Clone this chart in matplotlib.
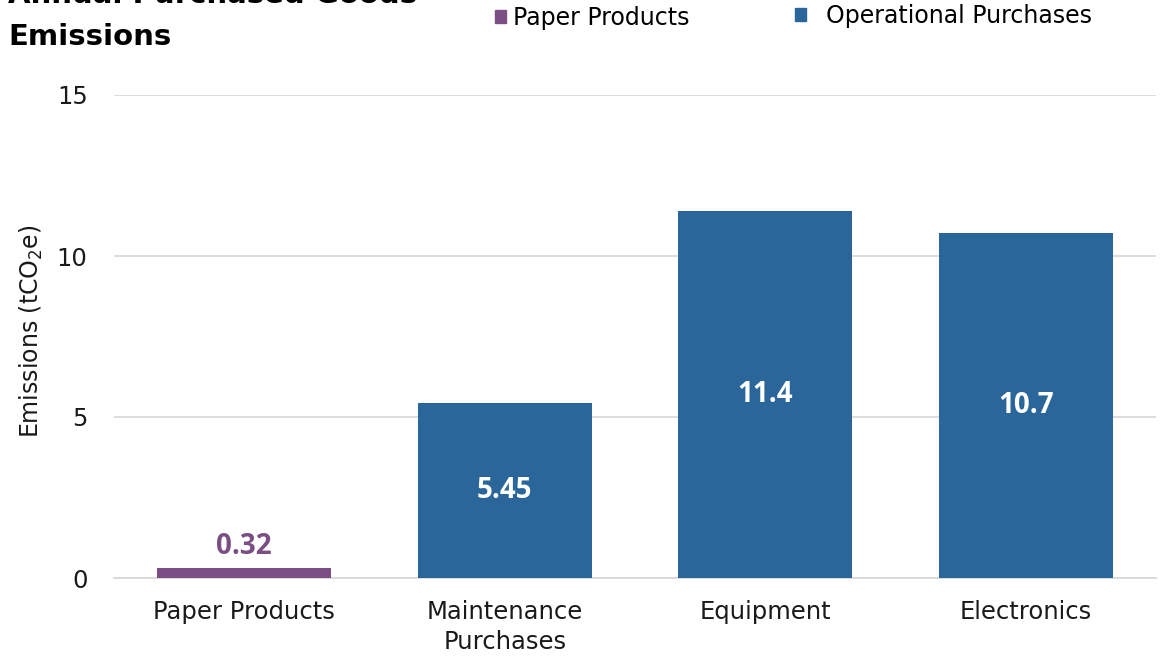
import matplotlib.pyplot as plt
from matplotlib.patches import Patch

# data
categories = ["Paper Products", "Maintenance\nPurchases", "Equipment", "Electronics"]
values = [0.32, 5.45, 11.4, 10.7]
labels = ["0.32", "5.45", "11.4", "10.7"]
groups = ["Paper Products", "Operational Purchases", "Operational Purchases", "Operational Purchases"]

purple = "#7b4f84"
blue = "#2a6699"
colors = {"Paper Products": purple, "Operational Purchases": blue}

plt.rcParams['font.family'] = ['DejaVu Sans']

fig = plt.figure(figsize=(11.75, 6.57), dpi=100)
ax = fig.add_axes([114/1175, 79/657, (1156-114)/1175, 483/657])

bars = ax.bar(range(len(values)), values, width=0.667,
              color=[colors[g] for g in groups], zorder=3)

# labels: purple bar too thin, label sits above it
for b, v, t in zip(bars, values, labels):
    x = b.get_x() + b.get_width()/2
    if v < 2:
        ax.text(x, v + 0.2, t, ha='center', va='bottom', color=purple,
                fontsize=20, fontweight='bold', family='Open Sans')
    else:
        ax.text(x, v/2, t, ha='center', va='center', color='white',
                fontsize=20, fontweight='bold', family='Open Sans')

ax.set_xlim(-0.5, 3.5)
ax.set_ylim(0, 15)
ax.set_yticks([0, 5, 10, 15])
ax.set_xticks(range(len(categories)))
ax.set_xticklabels(categories, fontsize=17.5, color='#1a1a1a', linespacing=1.3)
ax.tick_params(axis='y', length=0, pad=19, labelsize=17.5, labelcolor='#1a1a1a')
ax.tick_params(axis='x', length=0, pad=16)
ax.grid(axis='y', color='#d9d9d9', linewidth=1.3, zorder=0)
for s in ['top', 'right', 'left']:
    ax.spines[s].set_visible(False)
ax.spines['bottom'].set_color('#d9d9d9')
ax.spines['bottom'].set_linewidth(1.3)

ax.set_ylabel("Emissions (tCO$_2$e)", fontsize=17, color='#1a1a1a')
ax.yaxis.set_label_coords(-0.066, 0.51)

# title, first line runs off the top like in the original
fig.text(8/1175, 1 - 3/657, "Annual Purchased Goods", fontsize=21,
         fontweight='bold', ha='left', va='baseline')
fig.text(8/1175, 1 - 45/657, "Emissions", fontsize=21,
         fontweight='bold', ha='left', va='baseline')

# two legend entries, spaced like the original
leg1 = fig.legend(handles=[Patch(color=purple, label="Paper Products")],
                  loc='center left', bbox_to_anchor=(486/1175, 1 - 18/657),
                  frameon=False, fontsize=17, handlelength=0.45, handleheight=0.45,
                  handletextpad=0.3, borderaxespad=0)
leg2 = fig.legend(handles=[Patch(color=blue, label="Operational Purchases")],
                  loc='center left', bbox_to_anchor=(786/1175, 1 - 16/657),
                  frameon=False, fontsize=17, handlelength=0.45, handleheight=0.45,
                  handletextpad=0.85, borderaxespad=0)

fig.savefig("out.png", dpi=100)
